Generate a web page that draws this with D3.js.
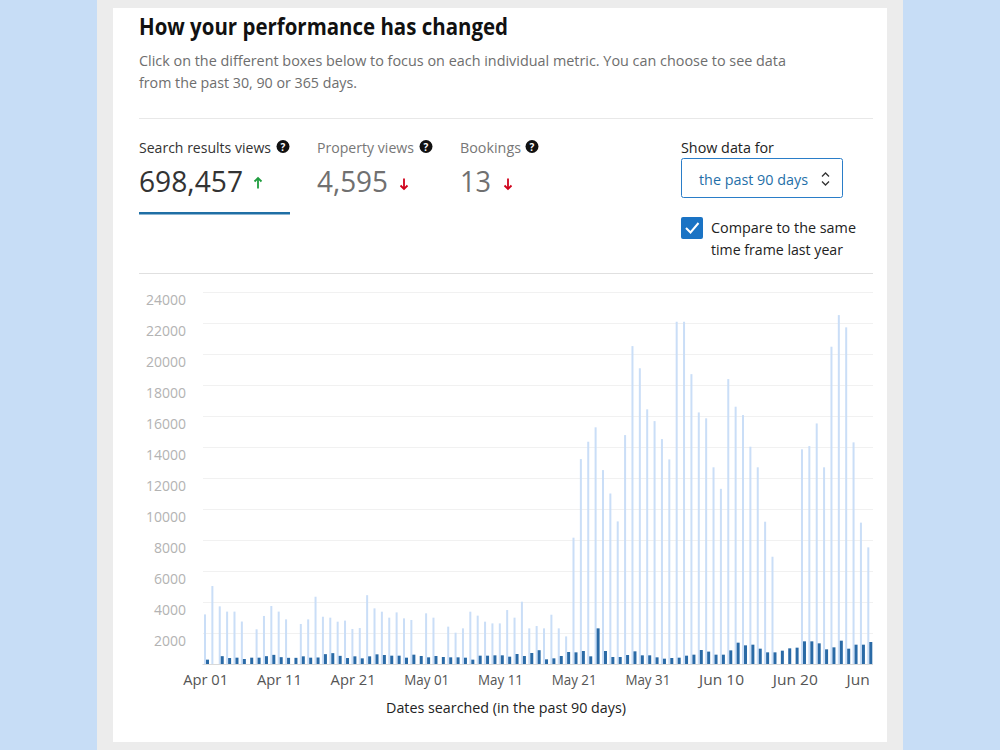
<!DOCTYPE html>
<html>
<head>
<meta charset="utf-8">
<script src="https://cdn.jsdelivr.net/npm/d3@7"></script>
<style>
  html, body { margin: 0; padding: 0; background: #c7ddf6; }
  svg { display: block; font-family: "Open Sans", "Noto Sans", sans-serif; }
</style>
</head>
<body>
<svg id="vis" width="1000" height="750"></svg>
<script>
// dates searched: Apr 01 .. Jun 30 (91 days)
var startDate = new Date(2019, 3, 1);
var days = d3.timeDay.range(startDate, d3.timeDay.offset(startDate, 91));

// search results views, this period (light bars)
var searchViews = [
  3200, 5030, 3720, 3380, 3380, 2740, 0, 2240, 3100, 3740,
  3380, 2880, 0, 2580, 2880, 4340, 3050, 2990, 2730, 2800,
  2260, 2320, 4440, 3590, 3375, 2990, 3330, 2945, 2840, 0,
  3270, 2990, 0, 2410, 2020, 2300, 3375, 3120, 2730, 2620,
  2620, 3480, 2990, 4020, 2300, 2450, 2300, 3180, 2300, 1780,
  8150, 13220, 14340, 15270, 12510, 11000, 9200, 14770, 20510, 19080,
  16430, 15670, 14510, 13200, 22080, 22080, 18700, 16230, 15850, 12690,
  11300, 18380, 16600, 16060, 14020, 12690, 9180, 6920, 0, 0,
  0, 13850, 14060, 15520, 12690, 20470, 22510, 21720, 14300, 9120,
  7525
];

// same time frame last year (dark bars)
var searchViewsLastYear = [
  280, 0, 505, 385, 408, 322, 408, 408, 505, 590,
  440, 398, 398, 495, 408, 420, 635, 700, 525, 385,
  495, 365, 495, 623, 580, 537, 537, 408, 602, 516,
  430, 516, 451, 430, 430, 408, 280, 537, 537, 559,
  559, 473, 645, 516, 710, 890, 301, 365, 516, 774,
  752, 838, 495, 2300, 838, 451, 451, 580, 817, 559,
  559, 430, 344, 387, 408, 537, 602, 903, 800, 602,
  602, 880, 1376, 1204, 1247, 989, 752, 752, 860, 1010,
  1054, 1462, 1462, 1333, 946, 1075, 1505, 989, 1247, 1247,
  1419
];

var yTicks = [2000, 4000, 6000, 8000, 10000, 12000, 14000, 16000, 18000, 20000, 22000, 24000];
var xTickEvery = 10;

var metricNames = ["Search results views", "Property views", "Bookings"];
var metricValues = ["698,457", "4,595", "13"];
var metricUp = [true, false, false];

var _vis = d3.select("#vis");

// page backgrounds
_vis.append("rect").attr("x", 0).attr("y", 0).attr("width", 1000).attr("height", 750).attr("fill", "#c7ddf6");
_vis.append("rect").attr("x", 97).attr("y", 0).attr("width", 806).attr("height", 750).attr("fill", "#ececec");
_vis.append("rect").attr("x", 113).attr("y", 8).attr("width", 774).attr("height", 734).attr("fill", "#ffffff");

function addText(g, str, x, y, size, color, weight, len, anchor) {
    var t = g.append("text")
        .attr("x", x)
        .attr("y", y)
        .attr("font-size", size)
        .attr("fill", color)
        .attr("font-weight", weight || "normal")
        .attr("text-anchor", anchor || "start")
        .text(str);
    if (len) {
        t.attr("textLength", len).attr("lengthAdjust", "spacingAndGlyphs");
    }
    return t;
}

// header
addText(_vis, "How your performance has changed", 139, 35, 23, "#111", "bold", 369);
addText(_vis, "Click on the different boxes below to focus on each individual metric. You can choose to see data", 139, 66, 14.5, "#6e6e6e", "normal", 647);
addText(_vis, "from the past 30, 90 or 365 days.", 139, 88, 14.5, "#6e6e6e", "normal", 218);

_vis.append("line").attr("x1", 139).attr("x2", 873).attr("y1", 118.5).attr("y2", 118.5)
    .attr("stroke", "#e8e8e8");

// metric boxes
var metricX = [139, 317, 460];
var labelLen = [132, 97, 61];
var valueLen = [104, 71, 31];
var iconX = [283, 426, 532];
var arrowX = [258, 404, 508];

metricNames.forEach(function(name, i) {
    var active = i === 0;
    addText(_vis, name, metricX[i], 153, 14.5, active ? "#333" : "#777", "normal", labelLen[i]);
    _vis.append("circle").attr("cx", iconX[i]).attr("cy", 146.5).attr("r", 6.5).attr("fill", "#111");
    addText(_vis, "?", iconX[i], 150.5, 10, "#fff", "bold", null, "middle");
    addText(_vis, metricValues[i], metricX[i], 192, 30, active ? "#333" : "#707070", "normal", valueLen[i]);

    var ax = arrowX[i];
    var col = metricUp[i] ? "#1f9d3f" : "#d0021b";
    var head = metricUp[i]
        ? "M" + (ax - 3.5) + ",181.5 L" + ax + ",178 L" + (ax + 3.5) + ",181.5"
        : "M" + (ax - 3.5) + ",185.5 L" + ax + ",189 L" + (ax + 3.5) + ",185.5";
    _vis.append("line").attr("x1", ax).attr("x2", ax).attr("y1", 178.5).attr("y2", 188.5)
        .attr("stroke", col).attr("stroke-width", 1.8);
    _vis.append("path").attr("d", head).attr("fill", "none")
        .attr("stroke", col).attr("stroke-width", 1.8);
});

_vis.append("rect").attr("x", 139).attr("y", 212).attr("width", 151).attr("height", 2.5).attr("fill", "#1f6fa5");

// show data for
addText(_vis, "Show data for", 681, 153, 14.5, "#222", "normal", 93);
_vis.append("rect").attr("x", 681.5).attr("y", 158.5).attr("width", 161).attr("height", 39).attr("rx", 2)
    .attr("fill", "#fff").attr("stroke", "#2a7dc8");
addText(_vis, "the past 90 days", 699, 185, 14.5, "#1f6fa8", "normal", 109);
_vis.append("path").attr("d", "M822,176.5 L825.5,173 L829,176.5 M822,181.5 L825.5,185 L829,181.5")
    .attr("fill", "none").attr("stroke", "#333").attr("stroke-width", 1.3);

_vis.append("rect").attr("x", 681).attr("y", 217).attr("width", 22).attr("height", 22).attr("rx", 2)
    .attr("fill", "#1a73c4");
_vis.append("path").attr("d", "M686,228 L690.5,232.5 L698.5,223")
    .attr("fill", "none").attr("stroke", "#fff").attr("stroke-width", 2);
addText(_vis, "Compare to the same", 711, 233, 14.5, "#222", "normal", 145);
addText(_vis, "time frame last year", 711, 255, 14.5, "#222", "normal", 132);

_vis.append("line").attr("x1", 139).attr("x2", 873).attr("y1", 273.5).attr("y2", 273.5)
    .attr("stroke", "#e0e0e0");

// chart
var plotLeft = 202, plotRight = 873, plotTop = 292, plotBottom = 664;

var x0 = d3.scaleBand()
    .domain(days)
    .range([plotLeft, plotLeft + 7.37 * days.length]);

var y = d3.scaleLinear()
    .domain([0, 24000])
    .range([plotBottom, plotTop]);

_vis.append("defs").append("clipPath").attr("id", "plot-clip")
    .append("rect").attr("x", 113).attr("y", 280).attr("width", plotRight - 113).attr("height", 440);

// grid + y labels
var yAxis = _vis.append("g")
    .attr("class", "y axis")
    .attr("transform", "translate(" + (plotLeft + 1) + ",0)")
    .call(d3.axisLeft(y)
        .tickValues(yTicks)
        .tickFormat(d3.format("d"))
        .tickSize(-(plotRight - plotLeft - 1))
        .tickPadding(17));
yAxis.select(".domain").remove();
yAxis.selectAll("line").attr("stroke", "#f1f1f1");
yAxis.selectAll("text")
    .attr("fill", "#b3b3b3")
    .attr("font-size", 14.5)
    .attr("font-family", "'Open Sans', sans-serif")
    .attr("dy", "0.85em")
    .attr("textLength", function(d) { return d >= 10000 ? 40 : 32; })
    .attr("lengthAdjust", "spacingAndGlyphs");

var chart = _vis.append("g").attr("clip-path", "url(#plot-clip)");

// this period
chart.selectAll("rect.current")
    .data(searchViews)
    .enter()
    .append("rect")
    .attr("class", "current")
    .attr("x", function(d, i) { return x0(days[i]) + 2; })
    .attr("width", 2)
    .attr("y", function(d) { return y(d); })
    .attr("height", function(d) { return plotBottom - y(d); })
    .attr("fill", "#cadef7");

// last year
chart.selectAll("rect.last-year")
    .data(searchViewsLastYear)
    .enter()
    .append("rect")
    .attr("class", "last-year")
    .attr("x", function(d, i) { return x0(days[i]) + 4; })
    .attr("width", 3)
    .attr("y", function(d) { return y(d); })
    .attr("height", function(d) { return plotBottom - y(d); })
    .attr("fill", "#2a6aa6");

// x axis
var xAxis = chart.append("g")
    .attr("class", "x axis")
    .attr("transform", "translate(0," + plotBottom + ")")
    .call(d3.axisBottom(x0)
        .tickValues(days.filter(function(d, i) { return i % xTickEvery === 0; }))
        .tickFormat(d3.timeFormat("%b %d"))
        .tickSize(0)
        .tickPadding(11));
xAxis.select(".domain").attr("stroke", "#d9d9d9");
xAxis.selectAll("text")
    .attr("fill", "#555")
    .attr("font-size", 14.5)
    .attr("font-family", "'Open Sans', sans-serif")
    .attr("textLength", 45)
    .attr("lengthAdjust", "spacingAndGlyphs");

addText(_vis, "Dates searched (in the past 90 days)", 506, 713, 14.5, "#222", "normal", 240, "middle");
</script>
</body>
</html>
